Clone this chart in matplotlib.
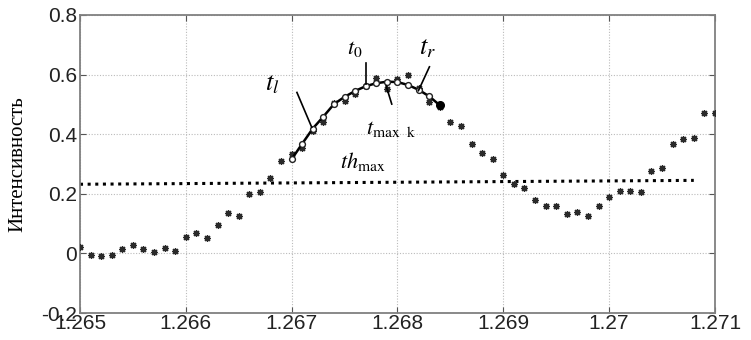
import matplotlib
matplotlib.use("Agg")
import matplotlib.pyplot as plt
import numpy as np

plt.rcParams['mathtext.fontset'] = 'stix'

# ---- data ----
x_start = 1.265
x_step = 0.0001
raw_y = [0.023, -0.004, -0.008, -0.005, 0.014, 0.029, 0.014, 0.004, 0.018, 0.009,
         0.054, 0.070, 0.051, 0.096, 0.137, 0.124, 0.200, 0.206, 0.254, 0.309,
         0.332, 0.353, 0.410, 0.442, 0.505, 0.510, 0.535, 0.560, 0.590, 0.553,
         0.585, 0.597, 0.555, 0.507, 0.490, 0.442, 0.429, 0.368, 0.337, 0.317,
         0.262, 0.232, 0.218, 0.179, 0.160, 0.160, 0.131, 0.140, 0.127, 0.160,
         0.190, 0.209, 0.210, 0.207, 0.278, 0.287, 0.366, 0.384, 0.387, 0.471,
         0.471]
raw_x = [x_start + i * x_step for i in range(len(raw_y))]

fit_start = 20
fit_y = [0.316, 0.368, 0.419, 0.459, 0.501, 0.525, 0.545, 0.561, 0.571, 0.576,
         0.575, 0.565, 0.549, 0.527, 0.497]
fit_x = [x_start + (fit_start + i) * x_step for i in range(len(fit_y))]

th_x = [1.265, 1.2708]
th_y = [0.232, 0.245]

xticks = [1.265, 1.266, 1.267, 1.268, 1.269, 1.27, 1.271]
xtick_labels = ['1.265', '1.266', '1.267', '1.268', '1.269', '1.27', '1.271']
yticks = [-0.2, 0, 0.2, 0.4, 0.6, 0.8]
ytick_labels = ['-0.2', '0', '0.2', '0.4', '0.6', '0.8']

# annotation segments: (x0, y0, x1, y1)
ann_lines = {
    't_l': (1.26705, 0.540, 1.26719, 0.423),
    't_0': (1.26770, 0.638, 1.26770, 0.568),
    't_max': (1.267893, 0.562, 1.267946, 0.501),
    't_r': (1.268302, 0.626, 1.268198, 0.546),
}
ann_labels = [
    (r'$t_l$', 1.26682, 0.570, 19),
    (r'$t_0$', 1.26760, 0.685, 16),
    (r'$t_r$', 1.26828, 0.690, 19),
    (r'$t_{\mathrm{max\ \ k}}$', 1.26794, 0.418, 16),
    (r'$th_{\mathrm{max}}$', 1.26767, 0.310, 16),
]

# ---- plot ----
fig = plt.figure(figsize=(7.51, 3.40), dpi=100)
ax = fig.add_axes([0.1065, 0.0794, 0.8455, 0.8766])

ax.plot(raw_x, raw_y, linestyle='none', marker=(8, 2, 0), markersize=5,
        markeredgewidth=0.9, color='#2a2a2a', zorder=3)
ax.plot(th_x, th_y, linestyle=(0, (1, 1.5)), color='black', linewidth=2.2, zorder=2)
ax.plot(fit_x, fit_y, color='black', linewidth=1.8, marker='o', markersize=4.2,
        markerfacecolor='white', markeredgecolor='#222222', markeredgewidth=1.0, zorder=4)
ax.plot(fit_x[-1:], fit_y[-1:], linestyle='none', marker='o', markersize=5.5,
        color='black', zorder=5)

for key, (x0, y0, x1, y1) in ann_lines.items():
    ax.plot([x0, x1], [y0, y1], color='black', linewidth=1.2, zorder=4)
for txt, tx, ty, fs in ann_labels:
    ax.text(tx, ty, txt, fontsize=fs, ha='center', va='center', zorder=6)

ax.set_xlim(1.265, 1.271)
ax.set_ylim(-0.2, 0.8)
ax.set_xticks(xticks)
ax.set_xticklabels(xtick_labels, fontfamily='Liberation Sans', fontsize=15)
ax.set_yticks(yticks)
ax.set_yticklabels(ytick_labels, fontfamily='Liberation Sans', fontsize=15)
ax.tick_params(direction='in', top=True, right=True, length=4, color='#555555',
               labelcolor='#222222', pad=2)
ax.tick_params(axis='x', pad=1)
ax.grid(True, linestyle=(0, (1, 1.5)), color='#bbbbbb', linewidth=0.8)
for s in ax.spines.values():
    s.set_color('#808080')
    s.set_linewidth(1.3)

ax.set_ylabel('Интенсивность', fontfamily='Liberation Serif', fontsize=15, labelpad=10)

fig.savefig('out.png', dpi=100, facecolor='white')
